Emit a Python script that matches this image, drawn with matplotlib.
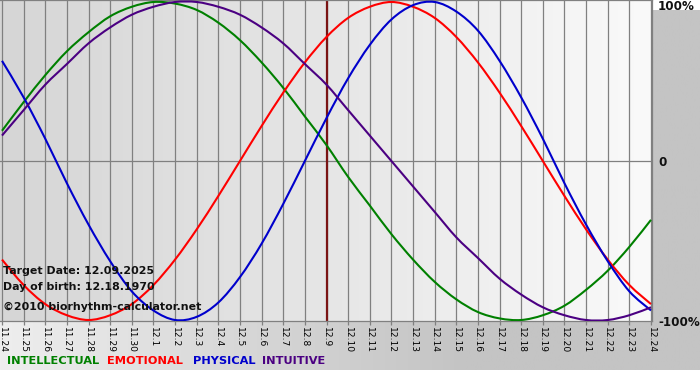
import numpy as np
import matplotlib
matplotlib.use("Agg")
import matplotlib.pyplot as plt
from matplotlib.colors import LinearSegmentedColormap
from matplotlib.path import Path
from matplotlib.patches import PathPatch

# days shown on the x axis
days = ["11.24", "11.25", "11.26", "11.27", "11.28", "11.29", "11.30",
        "12.1", "12.2", "12.3", "12.4", "12.5", "12.6", "12.7", "12.8",
        "12.9", "12.10", "12.11", "12.12", "12.13", "12.14", "12.15",
        "12.16", "12.17", "12.18", "12.19", "12.20", "12.21", "12.22",
        "12.23", "12.24"]
target_day = "12.9"

# cycle values (-1 .. 1), one per day
intellectual = [0.19, 0.37, 0.54, 0.69, 0.81, 0.91, 0.97, 1.00, 0.99, 0.95,
                0.87, 0.76, 0.62, 0.46, 0.28, 0.10, -0.10, -0.28, -0.46, -0.62,
                -0.76, -0.87, -0.95, -0.99, -1.00, -0.97, -0.91, -0.81, -0.69,
                -0.54, -0.37]
emotional = [-0.62, -0.78, -0.90, -0.97, -1.00, -0.97, -0.90, -0.78, -0.62,
             -0.43, -0.22, 0.00, 0.22, 0.43, 0.62, 0.78, 0.90, 0.97, 1.00,
             0.97, 0.90, 0.78, 0.62, 0.43, 0.22, 0.00, -0.22, -0.43, -0.62,
             -0.78, -0.90]
physical = [0.63, 0.40, 0.14, -0.14, -0.40, -0.63, -0.82, -0.94, -1.00, -0.98,
            -0.89, -0.73, -0.52, -0.27, 0.00, 0.27, 0.52, 0.73, 0.89, 0.98,
            1.00, 0.94, 0.82, 0.63, 0.40, 0.14, -0.14, -0.40, -0.63, -0.82,
            -0.94]
intuitive = [0.16, 0.32, 0.48, 0.61, 0.74, 0.84, 0.92, 0.97, 1.00, 1.00,
             0.97, 0.92, 0.84, 0.74, 0.61, 0.48, 0.32, 0.16, 0.00, -0.16,
             -0.32, -0.48, -0.61, -0.74, -0.84, -0.92, -0.97, -1.00, -1.00,
             -0.97, -0.92]

series = [("INTELLECTUAL", intellectual, "#008000"),
          ("EMOTIONAL", emotional, "#ff0000"),
          ("PHYSICAL", physical, "#0000cc"),
          ("INTUITIVE", intuitive, "#4b0082")]


def smooth_path(xs, ys):
    # bezier path through the points (catmull-rom style handles)
    pts = np.column_stack([xs, ys]).astype(float)
    n = len(pts)
    verts = [pts[0]]
    codes = [Path.MOVETO]
    for i in range(n - 1):
        p0 = pts[max(i - 1, 0)]
        p1 = pts[i]
        p2 = pts[i + 1]
        p3 = pts[min(i + 2, n - 1)]
        verts += [p1 + (p2 - p0) / 6, p2 - (p3 - p1) / 6, p2]
        codes += [Path.CURVE4] * 3
    return Path(verts, codes)


W, H = 700, 380
fig = plt.figure(figsize=(W / 100, H / 100), dpi=100)
fig.patch.set_facecolor("white")

# grey frame behind everything (light left -> darker right)
bg = fig.add_axes([0, 10 / H, 1, 360 / H])
bg.axis("off")
frame_cmap = LinearSegmentedColormap.from_list("frame", ["#eeeeee", "#d8d8d8", "#c4c4c4", "#c4c4c4"])
bg.imshow(np.linspace(0, 1, 256)[None, :], aspect="auto", cmap=frame_cmap,
          extent=[0, 1, 0, 1])
bg.set_xlim(0, 1)
bg.set_ylim(0, 1)

# plot area
ax = fig.add_axes([0, (H - 321) / H, 652 / W, 321 / H])
px_day = 649 / 30
ax.set_xlim(-2 / px_day, 30 + 1 / px_day)
ax.set_ylim(-1 - 1 / 159, 1 + 2 / 159)

plot_cmap = LinearSegmentedColormap.from_list("plot", ["#d6d6d6", "#e6e6e6", "#fafafa"])
ax.imshow(np.linspace(0, 1, 256)[None, :], aspect="auto", cmap=plot_cmap,
          extent=[ax.get_xlim()[0], ax.get_xlim()[1], ax.get_ylim()[0], ax.get_ylim()[1]],
          zorder=0)

x = np.arange(len(days))
for xi in x:
    ax.axvline(xi, color="#808080", lw=0.9, zorder=1)
ax.axhline(0, color="#808080", lw=0.9, zorder=1)

ti = days.index(target_day)
ax.axvline(ti, color="#7a1414", lw=1.6, zorder=2)

for name, vals, col in series:
    ax.add_patch(PathPatch(smooth_path(x, vals), facecolor="none", edgecolor=col,
                           lw=1.5, zorder=3))

for s in ax.spines.values():
    s.set_color("#808080")
    s.set_linewidth(0.9)
ax.spines["left"].set_visible(False)

ax.set_yticks([])
ax.set_xticks(x)
ax.set_xticklabels(days, rotation=270, fontsize=6.6, family="DejaVu Sans")
ax.tick_params(axis="x", length=3, width=0.9, color="#808080", pad=1)

# right side percent labels
for txt, ypix in [("100%", 7), ("0", 162), ("-100%", 322)]:
    fig.text(658 / W, (H - ypix) / H, txt, fontsize=8.6, fontweight="bold",
             ha="left", va="center", color="#111111", family="DejaVu Sans")

# info text over the plot
for txt, ypix in [("Target Date: 12.09.2025", 271),
                  ("Day of birth: 12.18.1970", 287),
                  ("\u00a92010 biorhythm-calculator.net", 307)]:
    fig.text(3 / W, (H - ypix) / H, txt, fontsize=7.9, fontweight="bold",
             ha="left", va="center", color="#111111", family="DejaVu Sans", zorder=10)

# legend row
for (name, vals, col), xpix in zip(series, [7, 107, 193, 262]):
    fig.text(xpix / W, (H - 361) / H, name, fontsize=8.2, fontweight="bold",
             ha="left", va="center", color=col, family="DejaVu Sans")

fig.savefig("out.png", dpi=100)
